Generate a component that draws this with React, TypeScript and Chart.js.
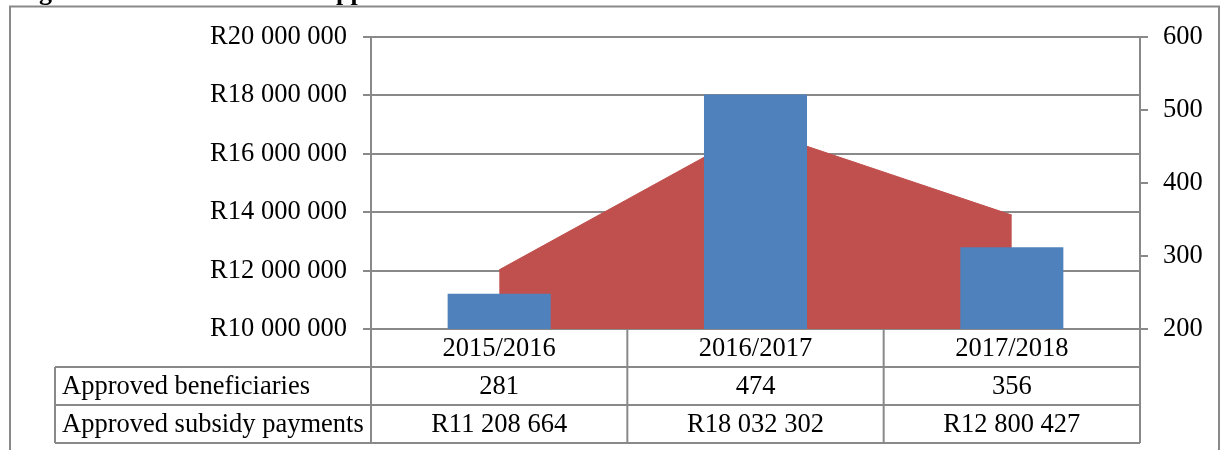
import React, { useEffect, useRef } from "react";
import { Chart, registerables } from "chart.js";
Chart.register(...registerables);

const categories = ["2015/2016", "2016/2017", "2017/2018"];
const beneficiaries = [281, 474, 356];
const payments = [11208664, 18032302, 12800427];
const rowLabels = ["Approved beneficiaries", "Approved subsidy payments"];
const leftTicks = [10000000, 12000000, 14000000, 16000000, 18000000, 20000000];
const rightTicks = [200, 300, 400, 500, 600];
const titleText = "Figure 12: Total number of approved beneficiaries and subsidies";

const FONT = "'Liberation Serif', 'Times New Roman', serif";
const FSIZE = 26.5;
const GRAY = "#898989";
const BLUE = "#4F81BD";
const RED = "#C0504D";

const fmtSpace = (n: number) =>
  Math.round(n).toString().replace(/\B(?=(\d{3})+(?!\d))/g, " ");
const fmtRand = (n: number) => "R" + fmtSpace(n);

const tablePlugin = {
  id: "dataTable",
  beforeDraw(chart: any) {
    const ctx = chart.ctx;
    ctx.save();
    ctx.strokeStyle = GRAY;
    ctx.lineWidth = 2;
    ctx.beginPath();
    ctx.moveTo(10, 460);
    ctx.lineTo(10, 6.5);
    ctx.lineTo(1219, 6.5);
    ctx.lineTo(1219, 460);
    ctx.stroke();
    ctx.fillStyle = "#000";
    ctx.font = "bold 26px " + FONT;
    ctx.textBaseline = "alphabetic";
    ctx.textAlign = "left";
    ctx.fillText(titleText, 16, 0);
    ctx.restore();
  },
  afterDraw(chart: any) {
    const ctx = chart.ctx;
    const xs = chart.scales.x;
    const area = chart.chartArea;
    const rowH = 38;
    const top = area.bottom;
    const bottom = top + rowH * 3;
    const labelLeft = 55;
    const n = categories.length;
    const centers = categories.map((_, i) => xs.getPixelForValue(i));
    const bounds = [area.left];
    for (let i = 0; i < n - 1; i++) bounds.push((centers[i] + centers[i + 1]) / 2);
    bounds.push(area.right);

    ctx.save();
    ctx.strokeStyle = GRAY;
    ctx.lineWidth = 2;
    ctx.beginPath();
    for (let r = 1; r <= 3; r++) {
      const y = top + rowH * r;
      ctx.moveTo(labelLeft, y);
      ctx.lineTo(area.right, y);
    }
    ctx.moveTo(labelLeft, top + rowH);
    ctx.lineTo(labelLeft, bottom);
    bounds.forEach((b) => {
      ctx.moveTo(b, top);
      ctx.lineTo(b, bottom);
    });
    ctx.stroke();

    ctx.fillStyle = "#000";
    ctx.font = FSIZE + "px " + FONT;
    ctx.textBaseline = "middle";
    ctx.textAlign = "center";
    categories.forEach((c, i) => {
      ctx.fillText(c, centers[i], top + rowH * 0.5 + 1);
      ctx.fillText(String(beneficiaries[i]), centers[i], top + rowH * 1.5 + 1);
      ctx.fillText(fmtRand(payments[i]), centers[i], top + rowH * 2.5 + 1);
    });
    ctx.textAlign = "left";
    rowLabels.forEach((l, r) => {
      ctx.fillText(l, labelLeft + 7, top + rowH * (r + 1.5) + 1);
    });
    ctx.restore();
  },
};

export default function App() {
  const ref = useRef<HTMLCanvasElement>(null);
  useEffect(() => {
    if (!ref.current) return;
    const chart = new Chart(ref.current, {
      type: "bar",
      data: {
        labels: categories,
        datasets: [
          {
            type: "bar",
            label: "Approved subsidy payments",
            data: payments,
            backgroundColor: BLUE,
            yAxisID: "y",
            order: 0,
            categoryPercentage: 1,
            barPercentage: 0.402,
          } as any,
          {
            type: "line",
            label: "Approved beneficiaries",
            data: beneficiaries,
            yAxisID: "y1",
            fill: "start",
            backgroundColor: RED,
            borderColor: RED,
            borderWidth: 1,
            pointRadius: 0,
            tension: 0,
            order: 1,
          } as any,
        ],
      },
      options: {
        responsive: false,
        maintainAspectRatio: false,
        devicePixelRatio: 1,
        animation: false,
        layout: { padding: { top: 37, bottom: 121, left: 0, right: 0 } },
        plugins: { legend: { display: false }, tooltip: { enabled: false } },
        scales: {
          x: { display: false, offset: true },
          y: {
            position: "left",
            min: leftTicks[0],
            max: leftTicks[leftTicks.length - 1],
            afterFit: (s: any) => {
              s.width = 371;
            },
            afterBuildTicks: (s: any) => {
              s.ticks = leftTicks.map((v) => ({ value: v }));
            },
            ticks: {
              color: "#000",
              font: { family: FONT, size: FSIZE },
              padding: 16,
              callback: (v: any) => fmtRand(Number(v)),
            },
            grid: { color: GRAY, lineWidth: 2, tickLength: 8, drawTicks: true },
            border: { display: true, color: GRAY, width: 2 },
          },
          y1: {
            position: "right",
            min: rightTicks[0],
            max: rightTicks[rightTicks.length - 1],
            afterFit: (s: any) => {
              s.width = 80;
            },
            afterBuildTicks: (s: any) => {
              s.ticks = rightTicks.map((v) => ({ value: v }));
            },
            ticks: {
              color: "#000",
              font: { family: FONT, size: FSIZE },
              padding: 15,
            },
            grid: { color: GRAY, lineWidth: 2, tickLength: 8, drawOnChartArea: false },
            border: { display: true, color: GRAY, width: 2 },
          },
        },
      } as any,
      plugins: [tablePlugin],
    });
    return () => chart.destroy();
  }, []);
  return (
    <div style={{ position: "absolute", left: 0, top: 0, width: 1220, height: 450, background: "#fff" }}>
      <canvas ref={ref} width={1220} height={450} style={{ display: "block" }} />
    </div>
  );
}
